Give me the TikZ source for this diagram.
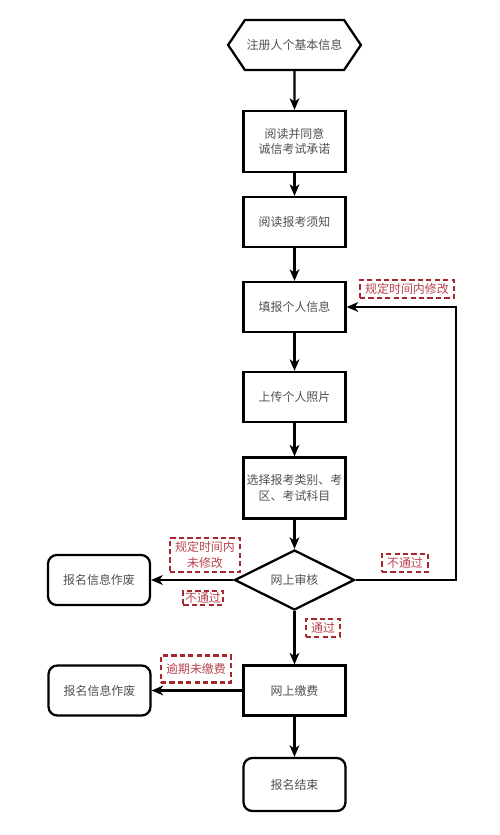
\documentclass[tikz,border=0pt]{standalone}
\usepackage{fontspec}
\newfontfamily\cjk{Noto Sans CJK SC}
\usetikzlibrary{arrows.meta,shapes.geometric,shapes.symbols}
\definecolor{TextGray}{HTML}{505050}
\definecolor{NoteRed}{HTML}{B8434F}
\definecolor{DashRed}{HTML}{A8262E}

\begin{document}
\begin{tikzpicture}[x=0.02cm,y=-0.02cm,
  every node/.style={font=\cjk\fontsize{6.8}{9}\selectfont,text=TextGray},
  stepbox/.style={draw=black,line width=1.3pt,minimum width=2.04cm,
    minimum height=1cm,align=center,inner sep=1pt},
  voidbox/.style={stepbox,rounded corners=5pt},
  note/.style={draw=DashRed,line width=1.3pt,dash pattern=on 3pt off 1.8pt,
    text=NoteRed,inner xsep=3pt,inner ysep=2pt,align=center},
  flow/.style={line width=1.3pt,-{Stealth[length=6.5pt,width=5.5pt,inset=1.8pt]}}]
  \useasboundingbox (0,0) rectangle (500,835);

  % main column
  \node[draw=black,line width=1.3pt,signal,signal to=east and west,
    signal pointer angle=112,minimum width=2.44cm,minimum height=1cm,
    inner sep=1pt] (start) at (294.5,45) {注册人个基本信息};
  \node[stepbox,minimum height=1.22cm] (agree) at (294.5,141.5) {阅读并同意\\诚信考试承诺};
  \node[stepbox] (notice) at (294.5,222) {阅读报考须知};
  \node[stepbox] (fill) at (294.5,307) {填报个人信息};
  \node[stepbox] (photo) at (294.5,397) {上传个人照片};
  \node[stepbox,minimum height=1.22cm] (choose) at (294.5,488) {选择报考类别、考\\区、考试科目};
  \node[draw=black,line width=1.3pt,diamond,aspect=2,inner sep=0pt,
    minimum width=2.4cm,minimum height=1.2cm] (audit) at (294.5,580) {网上审核};
  \node[stepbox] (pay) at (294.5,690.5) {网上缴费};
  \node[voidbox,minimum height=1.06cm] (done) at (294.5,784.5) {报名结束};

  % left side
  \node[voidbox] (void1) at (99,580) {报名信息作废};
  \node[voidbox] (void2) at (99.5,690.5) {报名信息作废};

  % connectors
  \foreach \a/\b in {start/agree,agree/notice,notice/fill,fill/photo,
    photo/choose,choose/audit,audit/pay,pay/done}
    \draw[flow] (\a) -- (\b);
  \coordinate (loopR) at (456,580);
  \draw[flow] (audit.east) -- (loopR) |- (fill.east);
  \draw[flow] (audit.west) -- (void1.east);
  \draw[flow] (pay.west) -- (void2.east);

  % notes
  \node[note] (noteEdit) at (407,289) {规定时间内修改};
  \node[note] (noteFailR) at (405,563) {不通过};
  \node[note] (noteLate) at (205,555) {规定时间内\\未修改};
  \node[note,inner sep=1pt] (noteFailL) at (203,598) {不通过};
  \node[note] (notePass) at (323,628) {通过};
  \node[note,inner ysep=4.5pt] (noteFee) at (196,669) {逾期未缴费};
\end{tikzpicture}
\end{document}
